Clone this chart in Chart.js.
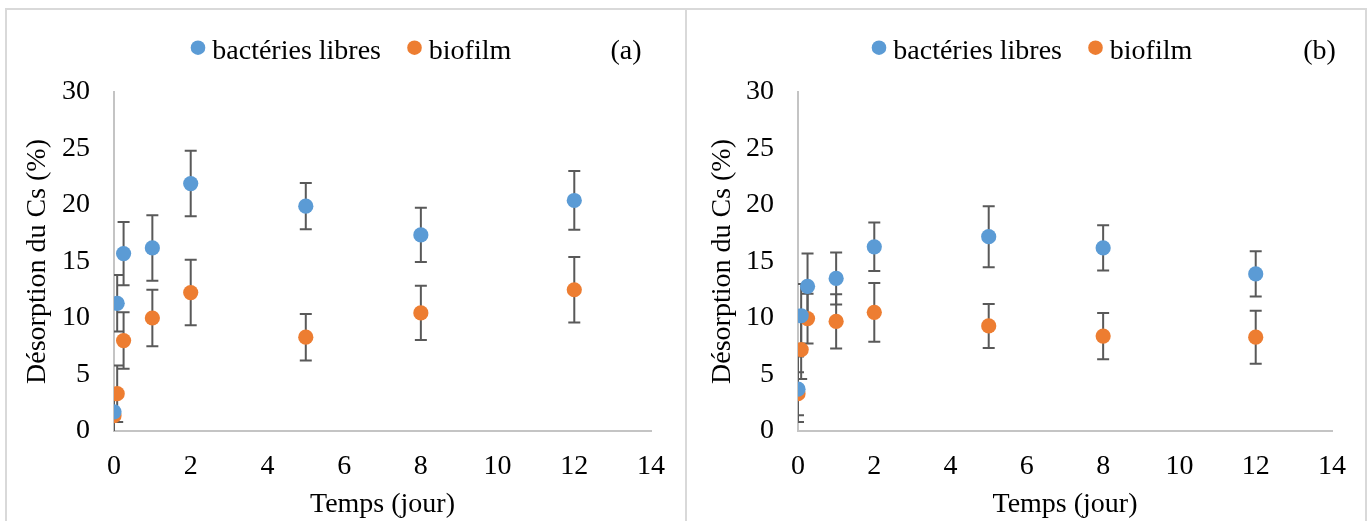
<!DOCTYPE html>
<html><head><meta charset="utf-8">
<script src="https://cdn.jsdelivr.net/npm/chart.js@4/dist/chart.umd.min.js"></script>
<style>
html,body{margin:0;padding:0;background:#fff;width:1367px;height:521px;overflow:hidden;}
.frame{position:absolute;border:2px solid #d9d9d9;box-sizing:border-box;}
canvas{position:absolute;}
</style></head><body>
<div class="frame" style="left:5px;top:8px;width:682px;height:540px;"></div>
<div class="frame" style="left:685px;top:8px;width:682px;height:540px;"></div>
<canvas id="chartA" width="677" height="511" style="left:7px;top:10px;"></canvas>
<canvas id="chartB" width="677" height="511" style="left:688px;top:10px;"></canvas>
<script>
// ---- data ----
const timeDays = [0, 0.083, 0.25, 1, 2, 5, 8, 12];
const seriesLabels = ['bactéries libres', 'biofilm'];
const panelLabels = ['(a)', '(b)'];
const xAxisTitle = 'Temps (jour)';
const yAxisTitle = 'Désorption du Cs (%)';
const xTickRange = [0, 14, 2];
const yTickRange = [0, 30, 5];

const aFreeMean    = [1.7, 11.3, 15.7, 16.2, 21.9, 19.9, 17.35, 20.4];
const aFreeErr     = [2.0, 2.5, 2.8, 2.9, 2.9, 2.05, 2.4, 2.6];
const aBiofilmMean = [1.35, 3.3, 8.0, 10.0, 12.25, 8.3, 10.45, 12.5];
const aBiofilmErr  = [1.5, 2.5, 2.5, 2.5, 2.9, 2.05, 2.4, 2.9];

const bFreeMean    = [3.7, 10.2, 12.8, 13.5, 16.3, 17.2, 16.2, 13.9];
const bFreeErr     = [2.9, 2.8, 2.9, 2.3, 2.15, 2.7, 2.0, 2.0];
const bBiofilmMean = [3.3, 7.2, 9.95, 9.7, 10.5, 9.3, 8.4, 8.3];
const bBiofilmErr  = [1.9, 2.6, 2.2, 2.4, 2.6, 1.95, 2.05, 2.35];

// ---- styles ----
const FONT = "'Liberation Serif', 'Times New Roman', serif";
const FS = 28;
const COLORS = ['#5B9BD5', '#ED7D31'];
const AXIS_COLOR = '#c4c4c4';

const errorBarPlugin = {
  id: 'errorBars',
  beforeDatasetsDraw(chart) {
    const {ctx, chartArea, scales: {y}} = chart;
    ctx.save();
    ctx.beginPath();
    ctx.rect(chartArea.left, chartArea.top, chartArea.right - chartArea.left, chartArea.bottom - chartArea.top);
    ctx.clip();
    ctx.strokeStyle = '#595959';
    ctx.lineWidth = 2;
    chart.data.datasets.forEach((ds, di) => {
      const meta = chart.getDatasetMeta(di);
      meta.data.forEach((pt, i) => {
        const v = ds.data[i].y, e = ds.errors[i];
        const yT = y.getPixelForValue(v + e), yB = y.getPixelForValue(v - e);
        const x = pt.x;
        ctx.beginPath();
        ctx.moveTo(x, yT); ctx.lineTo(x, yB);
        ctx.moveTo(x - 6, yT); ctx.lineTo(x + 6, yT);
        ctx.moveTo(x - 6, yB); ctx.lineTo(x + 6, yB);
        ctx.stroke();
      });
    });
    ctx.restore();
  }
};

const legendPlugin = {
  id: 'panelLegend',
  afterDraw(chart, args, opts) {
    const ctx = chart.ctx;
    ctx.save();
    ctx.font = FS + 'px ' + FONT;
    ctx.textBaseline = 'alphabetic';
    const markerX = [191, 407.5];
    chart.data.datasets.forEach((ds, i) => {
      ctx.fillStyle = ds.backgroundColor;
      ctx.beginPath();
      ctx.arc(markerX[i], 37.7, 7.3, 0, Math.PI * 2);
      ctx.fill();
      ctx.fillStyle = '#000';
      ctx.textAlign = 'left';
      ctx.fillText(ds.label, markerX[i] + 14.3, 48.5);
    });
    ctx.textAlign = 'center';
    ctx.fillStyle = '#000';
    ctx.fillText(opts.panel, opts.panelX, 48.5);
    ctx.restore();
  }
};

function makeChart(id, freeMean, freeErr, bioMean, bioErr, panel, panelX, axisW, rightPad, titlePad) {
  const toPts = arr => timeDays.map((t, i) => ({x: t, y: arr[i]}));
  return new Chart(document.getElementById(id), {
    type: 'scatter',
    data: {
      datasets: [
        {label: seriesLabels[0], data: toPts(freeMean), errors: freeErr,
         backgroundColor: COLORS[0], borderColor: COLORS[0], pointRadius: 7.6, pointHoverRadius: 7.6, borderWidth: 0},
        {label: seriesLabels[1], data: toPts(bioMean), errors: bioErr,
         backgroundColor: COLORS[1], borderColor: COLORS[1], pointRadius: 7.6, pointHoverRadius: 7.6, borderWidth: 0}
      ]
    },
    options: {
      responsive: false,
      animation: false,
      events: [],
      layout: {padding: {top: 82, right: rightPad, left: 0, bottom: 0}},
      plugins: {
        legend: {display: false},
        tooltip: {enabled: false},
        panelLegend: {panel: panel, panelX: panelX}
      },
      scales: {
        x: {
          type: 'linear', min: xTickRange[0], max: xTickRange[1],
          ticks: {stepSize: xTickRange[2], color: '#000', padding: 19, font: {family: FONT, size: FS}},
          grid: {display: false, drawTicks: false},
          border: {display: true, color: AXIS_COLOR, width: 2},
          title: {display: true, text: xAxisTitle, color: '#000', padding: {top: 0, bottom: 0}, font: {family: FONT, size: FS}},
          afterFit: s => { s.height = 90; }
        },
        y: {
          type: 'linear', min: yTickRange[0], max: yTickRange[1],
          ticks: {stepSize: yTickRange[2], color: '#000', padding: 24, font: {family: FONT, size: FS}},
          grid: {display: false, drawTicks: false},
          border: {display: true, color: AXIS_COLOR, width: 2},
          title: {display: true, text: yAxisTitle, color: '#000', padding: {top: titlePad, bottom: 0}, font: {family: FONT, size: FS}},
          afterFit: s => { s.width = axisW; }
        }
      }
    },
    plugins: [errorBarPlugin, legendPlugin]
  });
}

makeChart('chartA', aFreeMean, aFreeErr, aBiofilmMean, aBiofilmErr, panelLabels[0], 619, 107, 28, 14.2);
makeChart('chartB', bFreeMean, bFreeErr, bBiofilmMean, bBiofilmErr, panelLabels[1], 631.5, 110, 27, 17.9);
</script>
</body></html>
